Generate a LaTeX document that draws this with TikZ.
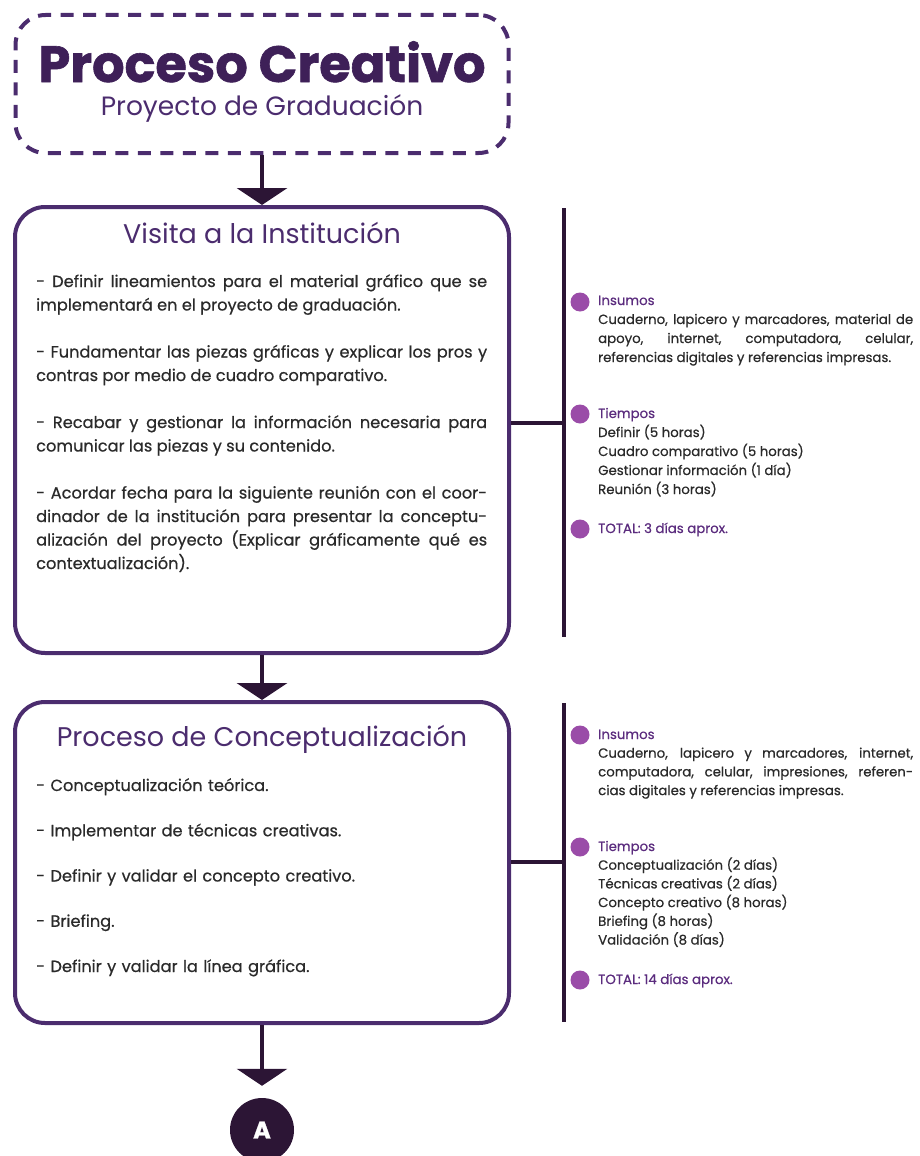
\documentclass[tikz,border=0pt]{standalone}
\usepackage{fontspec}
\setmainfont{Poppins}
\newfontfamily\bodyfont{Poppins}[FakeBold=0.6]
\newfontfamily\heavyfont{Poppins Bold}[FakeBold=1.2]
\usetikzlibrary{arrows.meta}
\definecolor{ttl}{HTML}{3E2058}
\definecolor{boxcol}{HTML}{4B2C6E}
\definecolor{conncol}{HTML}{2C1535}
\definecolor{bulcol}{HTML}{9A4CA8}
\definecolor{headcol}{HTML}{5B2C7E}
\definecolor{bodycol}{HTML}{2A2A2A}
\tikzset{
  stagebox/.style={draw=boxcol, line width=4pt, rounded corners=30pt, inner sep=0pt},
  titlebox/.style={draw=boxcol, line width=4pt, rounded corners=30pt, dash pattern=on 13pt off 9.5pt, inner sep=0pt},
  conn/.style={draw=conncol, line width=4pt},
  arr/.style={conn, -{Triangle[width=50pt,length=17pt]}},
  stagetitle/.style={anchor=base, inner sep=0pt, text=boxcol, font=\fontsize{27}{30}\selectfont},
  bodytext/.style={anchor=base west, inner sep=0pt, text=bodycol, text width=451pt, align=justify, font=\bodyfont\fontsize{16.2}{23.5}\selectfont},
  sidetext/.style={anchor=base west, inner sep=0pt, text=bodycol, text width=315pt, align=justify, font=\bodyfont\fontsize{13.3}{19}\selectfont},
  bullet/.style={circle, fill=bulcol, minimum size=19pt, inner sep=0pt},
}
\begin{document}
\begin{tikzpicture}[x=1pt,y=-1pt]
\useasboundingbox (0,0) rectangle (920,1156);
% title
\node[titlebox, minimum width=493pt, minimum height=138pt] (tbox) at (262,84) {};
\node[anchor=base, inner sep=0pt, text=ttl, font=\heavyfont\fontsize{51}{56}\selectfont] (ttext) at (262,82) {Proceso Creativo};
\node[anchor=base, inner sep=0pt, text=boxcol, font=\fontsize{26.5}{28}\selectfont] (tsub) at (262,115) {Proyecto de Graduación};
% box 1
\node[stagebox, minimum width=494pt, minimum height=446pt] (box1) at (262,430) {};
\node[stagetitle] (h1) at (262,243) {Visita a la Institución};
\node[bodytext] (b1) at (36,287) {- Definir lineamientos para el material gráfico que se\linebreak implementará en el proyecto de graduación.\par\vspace{23.5pt}- Fundamentar las piezas gráficas y explicar los pros y\linebreak contras por medio de cuadro comparativo.\par\vspace{23.5pt}- Recabar y gestionar la información necesaria para\linebreak comunicar las piezas y su contenido.\par\vspace{23.5pt}- Acordar fecha para la siguiente reunión con el coor-\linebreak dinador de la institución para presentar la conceptu-\linebreak alización del proyecto (Explicar gráficamente qué es\linebreak contextualización).};
% box 2
\node[stagebox, minimum width=494pt, minimum height=321pt] (box2) at (262,862.5) {};
\node[stagetitle] (h2) at (262,746) {Proceso de Conceptualización};
\node[bodytext, align=left, font=\bodyfont\fontsize{16.2}{45.25}\selectfont] (b2) at (36,791) {- Conceptualización teórica.\\- Implementar de técnicas creativas.\\- Definir y validar el concepto creativo.\\- Briefing.\\- Definir y validar la línea gráfica.};
% end circle
\node[circle, fill=conncol, minimum size=64pt, inner sep=0pt, text=white, font=\heavyfont\fontsize{24}{24}\selectfont] (endA) at (262,1130) {A};
% arrows
\draw[arr] (tbox.south) -- (box1.north);
\draw[arr] (box1.south) -- (box2.north);
\draw[arr, shorten >=12pt] (box2.south) -- (endA.north);
% side 1
\coordinate (v1t) at (564,208);
\coordinate (v1m) at (564,423);
\coordinate (v1b) at (564,637);
\draw[conn] (v1t) -- (v1b);
\draw[conn] (box1.east |- v1m) -- (v1m);
\node[bullet] (p1) at (580,302) {};
\node[bullet] (p2) at (580,414) {};
\node[bullet] (p3) at (580,529) {};
\node[sidetext] (s1) at (598,305) {\textcolor{headcol}{Insumos}\par Cuaderno, lapicero y marcadores, material de\linebreak apoyo, internet, computadora, celular,\linebreak referencias digitales y referencias impresas.};
\node[sidetext] (s2) at (598,418) {\textcolor{headcol}{Tiempos}\par Definir (5 horas)\par Cuadro comparativo (5 horas)\par Gestionar información (1 día)\par Reunión (3 horas)};
\node[sidetext, text=headcol] (s3) at (598,533) {TOTAL: 3 días aprox.};
% side 2
\coordinate (v2t) at (564,703);
\coordinate (v2m) at (564,862);
\coordinate (v2b) at (564,1022);
\draw[conn] (v2t) -- (v2b);
\draw[conn] (box2.east |- v2m) -- (v2m);
\node[bullet] (q1) at (580,735) {};
\node[bullet] (q2) at (580,847) {};
\node[bullet] (q3) at (580,980) {};
\node[sidetext, font=\bodyfont\fontsize{13.3}{18.7}\selectfont] (r1) at (598,739) {\textcolor{headcol}{Insumos}\par Cuaderno, lapicero y marcadores, internet,\linebreak computadora, celular, impresiones, referen-\linebreak cias digitales y referencias impresas.};
\node[sidetext, font=\bodyfont\fontsize{13.3}{18.7}\selectfont] (r2) at (598,851) {\textcolor{headcol}{Tiempos}\par Conceptualización (2 días)\par Técnicas creativas (2 días)\par Concepto creativo (8 horas)\par Briefing (8 horas)\par Validación (8 días)};
\node[sidetext, text=headcol] (r3) at (598,984) {TOTAL: 14 días aprox.};
\end{tikzpicture}
\end{document}
